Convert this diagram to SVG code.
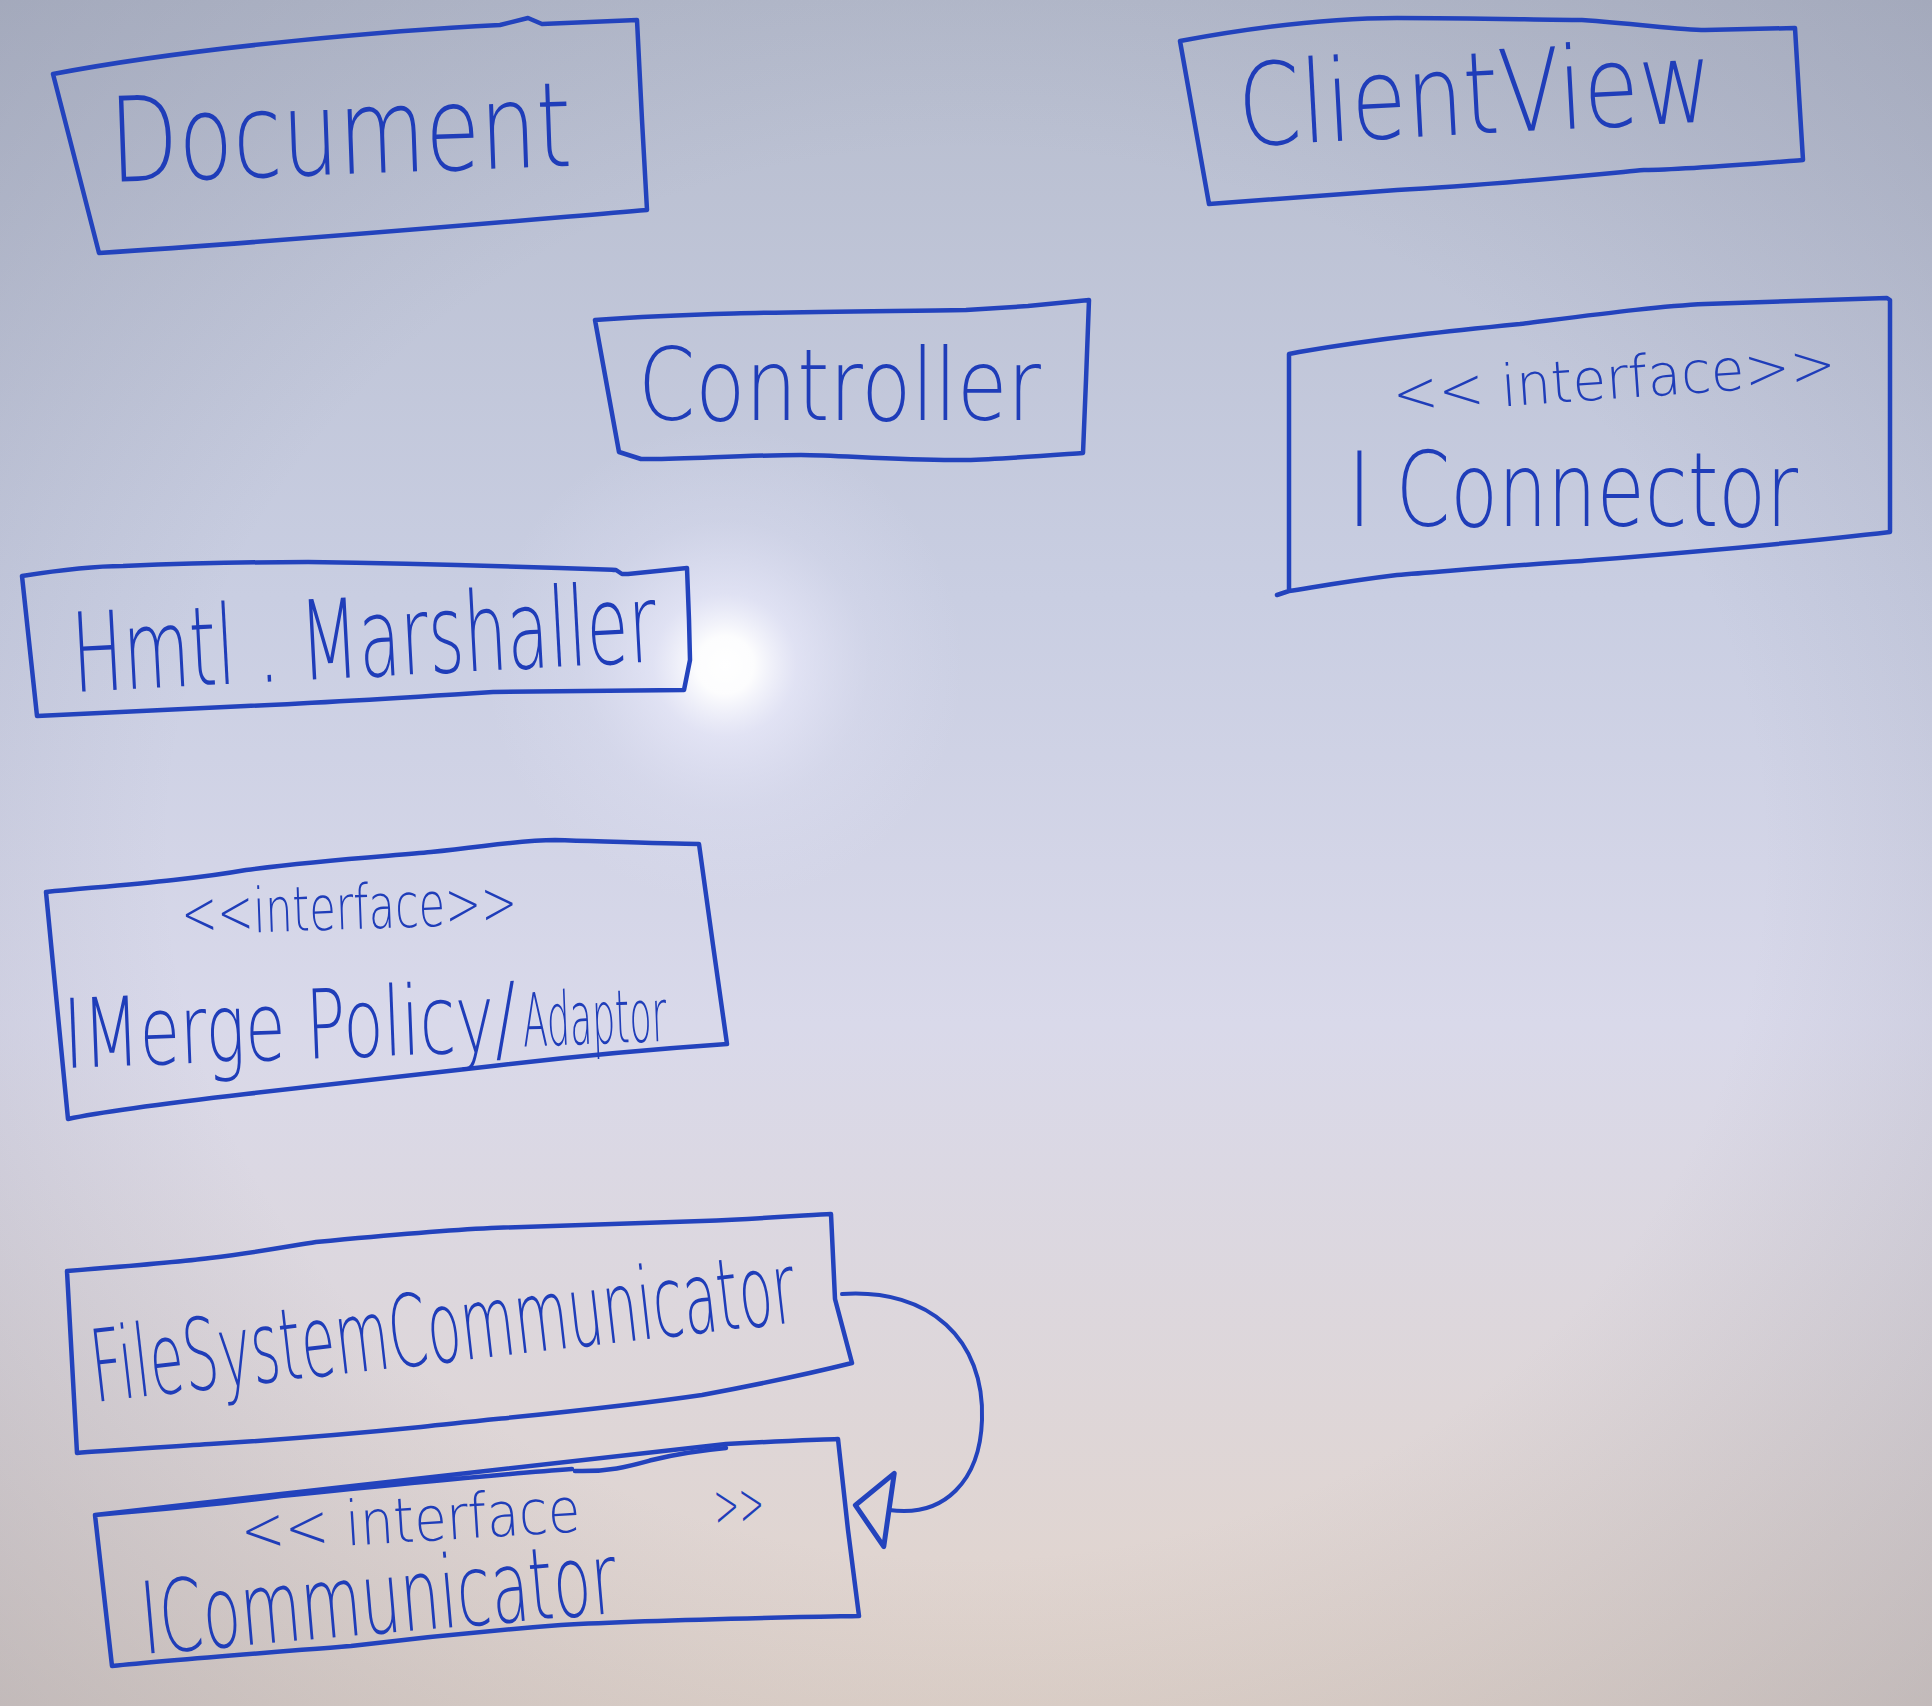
<svg xmlns="http://www.w3.org/2000/svg" width="1932" height="1706" viewBox="0 0 1932 1706">
  <defs>
    <linearGradient id="board" x1="0" y1="0" x2="0" y2="1">
      <stop offset="0" stop-color="#b6bccd"/>
      <stop offset="0.35" stop-color="#c9cee2"/>
      <stop offset="0.6" stop-color="#d9d9ea"/>
      <stop offset="1" stop-color="#e2d4ca"/>
    </linearGradient>
    <radialGradient id="vignette" cx="0.5" cy="0.5" r="0.75">
      <stop offset="0.55" stop-color="#7a7f95" stop-opacity="0"/>
      <stop offset="1" stop-color="#7a7f95" stop-opacity="0.35"/>
    </radialGradient>
    <radialGradient id="glare" cx="725" cy="665" r="240" gradientUnits="userSpaceOnUse">
      <stop offset="0" stop-color="#ffffff" stop-opacity="1"/>
      <stop offset="0.12" stop-color="#ffffff" stop-opacity="0.95"/>
      <stop offset="0.3" stop-color="#eeeefe" stop-opacity="0.6"/>
      <stop offset="0.6" stop-color="#e4e5f8" stop-opacity="0.25"/>
      <stop offset="1" stop-color="#e0e2f5" stop-opacity="0"/>
    </radialGradient>
    <marker id="realize" viewBox="-4 -4 44 82" markerWidth="44" markerHeight="82" refX="0" refY="37" orient="auto" markerUnits="userSpaceOnUse">
      <path d="M0,0 L34,37 L0,74 Z" fill="none" stroke="#2343bd" stroke-width="5" stroke-linejoin="round"/>
    </marker>
    <style>
      .box { fill: none; stroke: #2343bd; stroke-width: 4.5; stroke-linejoin: round; stroke-linecap: round; }
      .t { font-family: "DejaVu Sans", "Liberation Sans", sans-serif; font-weight: 200; fill: #1f3db9; }
      .edge { fill: none; stroke: #2343bd; stroke-width: 4; stroke-linecap: round; }
    </style>
  </defs>

  <rect x="0" y="0" width="1932" height="1706" fill="url(#board)"/>
  <rect x="0" y="0" width="1932" height="1706" fill="url(#vignette)"/>
  <ellipse cx="725" cy="700" rx="260" ry="330" fill="url(#glare)"/>

  <g id="document">
    <path class="box" d="M53,74 C200,46 400,30 500,25 L528,18 L542,24 L637,20 L642,120 L647,210 C480,224 300,240 99,253 L53,74 Z"/>
    <text class="t" x="111" y="182" font-size="118" textLength="462" lengthAdjust="spacingAndGlyphs" transform="rotate(-2 111 182)">Document</text>
  </g>

  <g id="clientview">
    <path class="box" d="M1180,41 C1250,28 1330,18 1397,18 C1480,18 1540,20 1582,20 C1640,24 1680,30 1705,30 L1795,28 L1799,95 L1803,160 C1740,165 1680,170 1644,170 C1560,178 1480,186 1397,190 C1320,196 1260,200 1209,204 L1180,41 Z"/>
    <text class="t" x="1240" y="146" font-size="114" textLength="475" lengthAdjust="spacingAndGlyphs" transform="rotate(-3 1240 146)">ClientView</text>
  </g>

  <g id="controller">
    <path class="box" d="M595,320 C700,312 820,312 966,310 L1028,306 L1089,300 L1086,380 L1083,453 C1040,456 1000,459 966,460 C900,461 840,455 801,455 C740,455 680,460 641,459 L619,452 L595,320 Z"/>
    <text class="t" x="638" y="420" font-size="100" textLength="403" lengthAdjust="spacingAndGlyphs">Controller</text>
  </g>

  <g id="iconnector">
    <path class="box" d="M1289,354 L1299,352 C1380,338 1460,330 1520,324 C1600,314 1660,306 1705,304 L1887,298 L1890,300 L1890,532 C1780,545 1680,553 1582,561 C1500,566 1440,572 1397,575 C1340,582 1310,588 1289,591 Z M1289,591 L1277,595"/>
    <text class="t" x="1394" y="414" font-size="58" textLength="444" lengthAdjust="spacingAndGlyphs" transform="rotate(-4 1394 414)">&lt;&lt; interface&gt;&gt;</text>
    <text class="t" x="1348" y="526" font-size="104" textLength="450" lengthAdjust="spacingAndGlyphs">I Connector</text>
  </g>

  <g id="htmlmarshaller">
    <path class="box" d="M22,576 C60,570 90,566 123,566 C200,563 260,562 308,562 C450,564 560,568 616,570 L622,574 L628,574 L687,568 L689,620 L690,660 L684,690 C600,691 540,691 493,692 C400,698 320,703 246,706 C150,711 80,714 37,716 L22,576 Z"/>
    <text class="t" x="74" y="692" font-size="110" textLength="585" lengthAdjust="spacingAndGlyphs" transform="rotate(-3 74 692)">Hmtl . Marshaller</text>
  </g>

  <g id="imergepolicyadaptor">
    <path class="box" d="M46,892 C120,885 190,880 246,870 C320,860 390,856 431,852 C490,846 520,840 555,840 C620,842 670,844 699,844 L713,945 L727,1044 C640,1050 560,1058 493,1066 C400,1076 320,1086 246,1094 C160,1104 100,1112 68,1119 L46,892 Z"/>
    <text class="t" x="182" y="935" font-size="62" textLength="336" lengthAdjust="spacingAndGlyphs" transform="rotate(-2 182 935)">&lt;&lt;interface&gt;&gt;</text>
    <text class="t" x="65" y="1068" font-size="96" transform="rotate(-2.2 65 1068)"><tspan textLength="453" lengthAdjust="spacingAndGlyphs">IMerge Policy/</tspan><tspan x="524" y="1064" font-size="74" textLength="144" lengthAdjust="spacingAndGlyphs">Adaptor</tspan></text>
  </g>

  <g id="filesystemcommunicator">
    <path class="box" d="M67,1271 C130,1266 180,1262 210,1258 C260,1252 290,1246 316,1242 C400,1234 450,1230 491,1228 C600,1224 660,1222 702,1221 C770,1218 810,1215 831,1214 L835,1299 L852,1363 C800,1376 750,1386 702,1395 C600,1410 500,1418 421,1427 C330,1436 260,1441 210,1444 C150,1448 100,1451 77,1453 L67,1271 Z"/>
    <text class="t" x="95" y="1402" font-size="100" textLength="708" lengthAdjust="spacingAndGlyphs" transform="rotate(-6.5 95 1402)">FileSystemCommunicator</text>
  </g>

  <g id="icommunicator">
    <path class="box" d="M95,1515 C180,1508 240,1502 281,1496 C400,1484 500,1474 572,1469 M726,1444 C780,1441 815,1440 838,1439 L848,1530 L859,1616 C760,1618 650,1620 561,1625 C470,1632 400,1640 351,1646 C250,1654 170,1660 112,1666 L95,1515 Z"/>
    <path class="box" d="M575,1471 C610,1472 630,1466 652,1460 C680,1453 705,1450 726,1448" stroke-width="7"/>
    <text class="t" font-size="62" transform="rotate(-3.5 242 1552)"><tspan x="242" y="1552" textLength="340" lengthAdjust="spacingAndGlyphs">&lt;&lt; interface</tspan><tspan x="716" y="1556" textLength="50" lengthAdjust="spacingAndGlyphs">&gt;&gt;</tspan></text>
    <text class="t" x="144" y="1654" font-size="100" textLength="477" lengthAdjust="spacingAndGlyphs" transform="rotate(-5 144 1654)">ICommunicator</text>
  </g>

  <g id="connectors">
    <path class="edge" marker-end="url(#realize)" d="M842,1294 C930,1288 985,1340 982,1420 C980,1480 945,1518 889,1510"/>
  </g>
</svg>
